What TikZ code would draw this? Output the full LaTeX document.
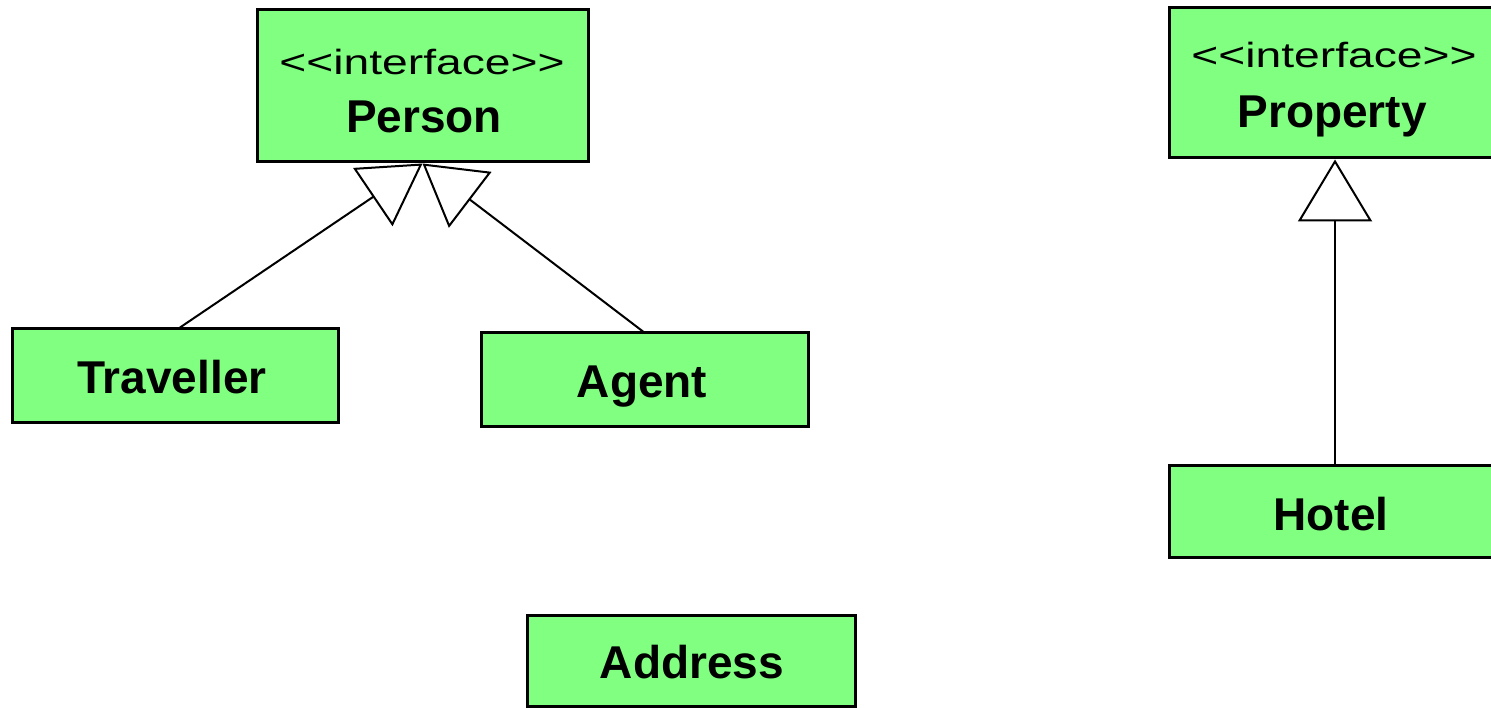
\documentclass[tikz,border=0pt]{standalone}
\usepackage{fontspec}
\setmainfont{Liberation Sans}
\usetikzlibrary{arrows.meta}
\definecolor{boxgreen}{RGB}{128,255,128}
\begin{document}
\begin{tikzpicture}[x=1pt,y=-1pt,
  umlbox/.style={draw=black, line width=3pt, fill=boxgreen, inner sep=0pt},
  nametext/.style={font=\fontsize{46}{50}\selectfont\bfseries, anchor=base, inner sep=0pt},
  stereo/.style={font=\fontsize{35}{40}\selectfont, anchor=base, inner sep=0pt},
  conn/.style={draw=black, line width=2pt},
  gen/.style={-{Triangle[open,length=60pt,width=70pt]}}
]
\fill[white] (0,0) rectangle (1491,708);
\clip (0,0) rectangle (1491,708);

% boxes
\node[umlbox, minimum width=331pt, minimum height=152pt] (person) at (422.5,86) {};
\node[umlbox, minimum width=332pt, minimum height=150pt] (property) at (1335,83) {};
\node[umlbox, minimum width=326pt, minimum height=93pt] (trav) at (175,375.5) {};
\node[umlbox, minimum width=327pt, minimum height=93pt] (agent) at (644.5,379.5) {};
\node[umlbox, minimum width=332pt, minimum height=92pt] (hotel) at (1335,511) {};
\node[umlbox, minimum width=328pt, minimum height=91pt] (address) at (691,660.5) {};

% texts
\node[stereo] (personst) at (422,75) {\scalebox{1.32}[1]{<\kern0pt<interface>\kern0pt>}};
\node[nametext] (personname) at (424,133) {Person};
\node[stereo] (propertyst) at (1334,68) {\scalebox{1.32}[1]{<\kern0pt<interface>\kern0pt>}};
\node[nametext] (propertyname) at (1332,128) {Property};
\node[nametext] (travname) at (172,393) {Traveller};
\node[nametext] (agentname) at (642,397) {Agent};
\node[nametext] (hotelname) at (1331,530) {Hotel};
\node[nametext] (addressname) at (692,678) {Address};

% generalizations
\draw[conn, gen] ([xshift=5pt]trav.north) -- (person.south);
\draw[conn, gen] ([xshift=-1.5pt]agent.north) -- (person.south);
\draw[conn, -{Triangle[open,length=62pt,width=74pt]}] (hotel.north) -- (property.south);
\end{tikzpicture}
\end{document}
